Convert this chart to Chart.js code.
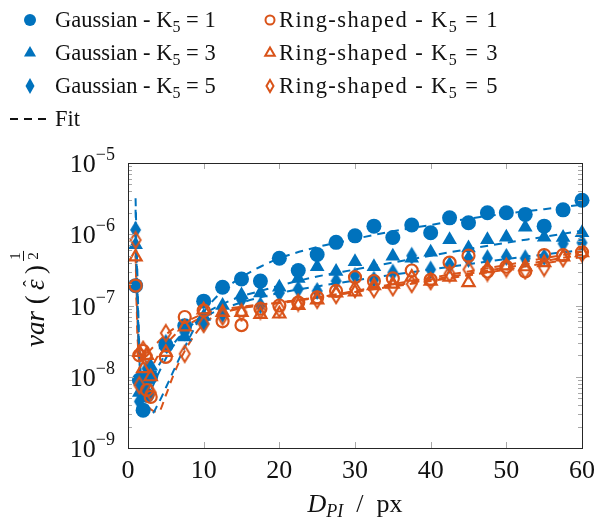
<!DOCTYPE html>
<html>
<head>
<meta charset="utf-8">
<script src="https://cdn.jsdelivr.net/npm/chart.js@4.4.1/dist/chart.umd.min.js"></script>
<style>
body { margin: 0; background: #fff; }
</style>
</head>
<body>
<canvas id="grafica" width="603" height="521"></canvas>
<script>
// D_PI en px de cada medida
const dpi = [1, 1.5, 2, 2.5, 3, 5, 7.5, 10, 12.5, 15, 17.5, 20, 22.5, 25, 27.5, 30, 32.5, 35, 37.5, 40, 42.5, 45, 47.5, 50, 52.5, 55, 57.5, 60];

// var(eps)^(1/2) medido
const gaussK1 = [1.9e-7, 9e-9, 3.4e-9, 5.5e-9, 1.0e-8, 2.8e-8, 5.2e-8, 1.15e-7, 1.8e-7, 2.35e-7, 2.2e-7, 4.6e-7, 3.1e-7, 5.2e-7, 7.7e-7, 9.5e-7, 1.3e-6, 9.0e-7, 1.35e-6, 1.05e-6, 1.7e-6, 1.45e-6, 2.0e-6, 2.0e-6, 1.9e-6, 1.3e-6, 2.2e-6, 3.0e-6];
const gaussK3 = [7.1e-7, 6e-9, 8e-9, 1.1e-8, 1.4e-8, 2.8e-8, 3.6e-8, 7e-8, 1.0e-7, 1.4e-7, 1.5e-7, 1.8e-7, 2.4e-7, 3.5e-7, 3.0e-7, 4.1e-7, 3.5e-7, 4.9e-7, 4.6e-7, 5.6e-7, 8.4e-7, 6.4e-7, 8.4e-7, 9.1e-7, 1.25e-6, 9.1e-7, 9.0e-7, 1.05e-6];
const gaussK5 = [1.15e-6, 4.5e-9, 7e-9, 1.3e-8, 1.0e-8, 3.0e-8, 4.2e-8, 5.6e-8, 7.5e-8, 1.2e-7, 1.0e-7, 1.5e-7, 1.7e-7, 1.6e-7, 2.2e-7, 2.6e-7, 2.3e-7, 2.9e-7, 5.0e-7, 3.2e-7, 3.7e-7, 4.5e-7, 4.6e-7, 4.8e-7, 4.6e-7, 4.8e-7, 7.4e-7, 7.6e-7];
const ringK1 = [1.9e-7, 2.0e-8, 2.3e-8, 6.5e-9, 5.2e-9, 1.9e-8, 6.9e-8, 8.5e-8, 6e-8, 5.3e-8, 9e-8, 1.0e-7, 1.1e-7, 1.3e-7, 1.6e-7, 2.5e-7, 2.2e-7, 2.4e-7, 3.1e-7, 2.3e-7, 4.0e-7, 5.0e-7, 3.0e-7, 3.5e-7, 3.0e-7, 5.1e-7, 5.1e-7, 5.6e-7];
const ringK3 = [4.8e-7, 2.2e-8, 1.3e-8, 2.0e-8, 1.0e-8, 2.2e-8, 5.0e-8, 8.7e-8, 8e-8, 8e-8, 7.5e-8, 7.6e-8, 1.0e-7, 1.2e-7, 1.5e-7, 1.55e-7, 1.9e-7, 2.0e-7, 2.5e-7, 2.2e-7, 2.5e-7, 2.1e-7, 3.3e-7, 3.6e-7, 3.5e-7, 4.0e-7, 4.8e-7, 5.5e-7];
const ringK5 = [8.3e-7, 7.6e-9, 2.4e-8, 2.0e-8, 6e-9, 4.1e-8, 2.1e-8, 5.5e-8, 7e-8, 8e-8, 8.5e-8, 9e-8, 1.1e-7, 1.2e-7, 1.4e-7, 1.7e-7, 1.7e-7, 1.8e-7, 2.0e-7, 2.2e-7, 2.8e-7, 3.2e-7, 2.9e-7, 3.3e-7, 3.1e-7, 3.4e-7, 4.6e-7, 5.4e-7];

// curvas de ajuste
const dpiFit = [1, 1.25, 1.5, 2, 2.5, 3, 4, 5, 6, 7.5, 10, 12.5, 15, 17.5, 20, 25, 30, 35, 40, 45, 50, 55, 60];
const fitGaussK1 = [3.2e-6, 2.5e-7, 2.5e-8, 4.5e-9, 3.0e-9, 2.9e-9, 4.2e-9, 7e-9, 1.2e-8, 2.6e-8, 8e-8, 1.6e-7, 2.5e-7, 3.5e-7, 4.6e-7, 6.6e-7, 8.6e-7, 1.1e-6, 1.35e-6, 1.65e-6, 1.95e-6, 2.25e-6, 2.6e-6];
const fitGaussK3 = [2.2e-6, 1.5e-7, 2e-8, 6e-9, 5.5e-9, 6.5e-9, 1.1e-8, 1.8e-8, 2.7e-8, 4.2e-8, 7.5e-8, 1.05e-7, 1.35e-7, 1.6e-7, 1.9e-7, 2.55e-7, 3.2e-7, 4.0e-7, 5.0e-7, 6.2e-7, 7.6e-7, 9.2e-7, 1.12e-6];
const fitGaussK5 = [1.5e-6, 1.2e-7, 1.8e-8, 7e-9, 7e-9, 8.5e-9, 1.4e-8, 2.1e-8, 2.9e-8, 4.3e-8, 6.8e-8, 9e-8, 1.1e-7, 1.3e-7, 1.5e-7, 1.85e-7, 2.25e-7, 2.7e-7, 3.2e-7, 3.8e-7, 4.5e-7, 5.2e-7, 6.0e-7];
const fitRingK1 = [6e-7, 6e-8, 2.4e-8, 2.0e-8, 2.1e-8, 2.4e-8, 3.1e-8, 3.9e-8, 4.7e-8, 5.8e-8, 7.6e-8, 8.8e-8, 9.6e-8, 1.03e-7, 1.1e-7, 1.3e-7, 1.6e-7, 2.0e-7, 2.45e-7, 3.0e-7, 3.7e-7, 4.6e-7, 5.7e-7];
const fitRingK3 = [5e-7, 4e-8, 1.5e-8, 1.0e-8, 1.1e-8, 1.3e-8, 2.0e-8, 2.8e-8, 3.7e-8, 5.0e-8, 7.0e-8, 8.2e-8, 9.2e-8, 1.0e-7, 1.08e-7, 1.28e-7, 1.55e-7, 1.9e-7, 2.3e-7, 2.8e-7, 3.4e-7, 4.2e-7, 5.2e-7];
const fitRingK5 = [8e-7, 5e-8, 1.5e-8, 6e-9, 4.2e-9, 3.5e-9, 3.2e-9, 5.5e-9, 1.05e-8, 2.3e-8, 5.5e-8, 7.8e-8, 9.2e-8, 1.02e-7, 1.1e-7, 1.3e-7, 1.55e-7, 1.85e-7, 2.2e-7, 2.65e-7, 3.2e-7, 3.9e-7, 4.8e-7];

const xTicks = [0, 10, 20, 30, 40, 50, 60];
const yExponentes = [-9, -8, -7, -6, -5];

const azul = '#0072BD';
const naranja = '#D95319';
const fuente = '"Liberation Serif", "DejaVu Serif", serif';
const trazo = [8, 6];

function serie(xs, ys) {
    return xs.map(function (x, i) { return { x: x, y: ys[i] }; });
}

// rombo alargado para los marcadores K5 = 5
function rombo(w, h, color, relleno) {
    const c = document.createElement('canvas');
    c.width = w + 4;
    c.height = h + 4;
    const g = c.getContext('2d');
    g.beginPath();
    g.moveTo(c.width / 2, 2);
    g.lineTo(c.width - 2, c.height / 2);
    g.lineTo(c.width / 2, c.height - 2);
    g.lineTo(2, c.height / 2);
    g.closePath();
    if (relleno) {
        g.fillStyle = color;
        g.fill();
    } else {
        g.strokeStyle = color;
        g.lineWidth = 2;
        g.stroke();
    }
    return c;
}

const romboAzul = rombo(11, 18, azul, true);
const romboNaranja = rombo(10, 16, naranja, false);

function puntos(datos, estilo, color, relleno, radio, orden) {
    return {
        type: 'scatter',
        data: serie(dpi, datos),
        showLine: false,
        pointStyle: estilo,
        pointRadius: radio,
        pointBackgroundColor: relleno ? color : 'rgba(0,0,0,0)',
        pointBorderColor: color,
        pointBorderWidth: relleno ? 0 : 2.2,
        clip: false,
        order: orden
    };
}

function ajuste(datos, color) {
    return {
        type: 'line',
        data: serie(dpiFit, datos),
        borderColor: color,
        borderWidth: 2,
        borderDash: trazo,
        pointRadius: 0,
        cubicInterpolationMode: 'monotone',
        fill: false,
        order: 10
    };
}

// texto con subindice
function textoSub(ctx, x, y, partes) {
    let cx = x;
    partes.forEach(function (p) {
        ctx.font = p.font;
        ctx.fillText(p.t, cx, y + (p.dy || 0));
        cx += ctx.measureText(p.t).width;
    });
    return cx;
}

function anchoPartes(ctx, partes) {
    let w = 0;
    partes.forEach(function (p) {
        ctx.font = p.font;
        w += ctx.measureText(p.t).width;
    });
    return w;
}

function dibujarMarcador(ctx, tipo, x, y, color, relleno) {
    ctx.save();
    ctx.fillStyle = color;
    ctx.strokeStyle = color;
    ctx.lineWidth = 2;
    ctx.beginPath();
    if (tipo === 'circle') {
        ctx.arc(x, y, relleno ? 6 : 4.5, 0, Math.PI * 2);
    } else if (tipo === 'triangle') {
        const r = relleno ? 7 : 5.5;
        ctx.moveTo(x, y - r);
        ctx.lineTo(x + r * 0.866, y + r * 0.5);
        ctx.lineTo(x - r * 0.866, y + r * 0.5);
        ctx.closePath();
    } else {
        const w = relleno ? 4.5 : 3.5, h = relleno ? 8 : 6;
        ctx.moveTo(x, y - h);
        ctx.lineTo(x + w, y);
        ctx.lineTo(x, y + h);
        ctx.lineTo(x - w, y);
        ctx.closePath();
    }
    if (relleno) ctx.fill(); else ctx.stroke();
    ctx.restore();
}

const leyenda = {
    id: 'leyenda',
    afterDraw(chart) {
        const ctx = chart.ctx;
        ctx.save();
        ctx.fillStyle = '#111';
        ctx.textBaseline = 'alphabetic';
        const filas = [
            { k: '1', tipo: 'circle', y: 27 },
            { k: '3', tipo: 'triangle', y: 60 },
            { k: '5', tipo: 'diamond', y: 93 }
        ];
        filas.forEach(function (f) {
            dibujarMarcador(ctx, f.tipo, 30, f.y - 7, azul, true);
            dibujarMarcador(ctx, f.tipo, 270, f.y - 7, naranja, false);
            ctx.fillStyle = '#111';
            ctx.letterSpacing = '0px';
            textoSub(ctx, 55, f.y, [
                { t: 'Gaussian - K', font: '22.5px ' + fuente },
                { t: '5', font: '16px ' + fuente, dy: 5 },
                { t: ' = ' + f.k, font: '22.5px ' + fuente }
            ]);
            ctx.letterSpacing = '1.4px';
            textoSub(ctx, 279, f.y, [
                { t: 'Ring-shaped - K', font: '22.5px ' + fuente },
                { t: '5', font: '16px ' + fuente, dy: 5 },
                { t: ' = ' + f.k, font: '22.5px ' + fuente }
            ]);
            ctx.letterSpacing = '0px';
        });
        ctx.strokeStyle = '#111';
        ctx.lineWidth = 2;
        ctx.setLineDash(trazo);
        ctx.beginPath();
        ctx.moveTo(10, 119);
        ctx.lineTo(46, 119);
        ctx.stroke();
        ctx.setLineDash([]);
        ctx.font = '22.5px ' + fuente;
        ctx.fillText('Fit', 55, 126);
        ctx.restore();
    }
};

const marcoEjes = {
    id: 'marcoEjes',
    afterDatasetsDraw(chart) {
        const ctx = chart.ctx;
        const a = chart.chartArea;
        const sx = chart.scales.x, sy = chart.scales.y;
        ctx.save();
        // marcas interiores
        ctx.strokeStyle = '#a8a8a8';
        ctx.lineWidth = 1;
        ctx.beginPath();
        xTicks.forEach(function (v) {
            const px = Math.round(sx.getPixelForValue(v)) + 0.5;
            ctx.moveTo(px, a.bottom); ctx.lineTo(px, a.bottom - 6);
            ctx.moveTo(px, a.top); ctx.lineTo(px, a.top + 6);
        });
        yExponentes.forEach(function (e) {
            if (e === yExponentes[yExponentes.length - 1]) return;
            for (let k = 1; k <= 9; k++) {
                const py = Math.round(sy.getPixelForValue(k * Math.pow(10, e))) + 0.5;
                const l = k === 1 ? 6 : 4;
                ctx.moveTo(a.left, py); ctx.lineTo(a.left + l, py);
                ctx.moveTo(a.right, py); ctx.lineTo(a.right - l, py);
            }
        });
        ctx.stroke();
        // caja
        ctx.strokeStyle = '#262626';
        ctx.strokeRect(Math.round(a.left) + 0.5, Math.round(a.top) + 0.5, Math.round(a.right - a.left), Math.round(a.bottom - a.top));

        // etiquetas del eje y: 10^e
        ctx.fillStyle = '#111';
        ctx.textBaseline = 'alphabetic';
        yExponentes.forEach(function (e) {
            const py = sy.getPixelForValue(Math.pow(10, e));
            const sup = '\u2212' + Math.abs(e);
            ctx.font = '18px ' + fuente;
            const ws = ctx.measureText(sup).width;
            ctx.font = '26px ' + fuente;
            ctx.textAlign = 'right';
            ctx.fillText('10', 115 - ws, py + 9);
            ctx.textAlign = 'left';
            ctx.font = '18px ' + fuente;
            ctx.fillText(sup, 115 - ws, py - 3);
        });

        // titulo eje x: D_PI / px
        const partesX = [
            { t: 'D', font: 'italic 26px ' + fuente },
            { t: 'PI', font: 'italic 18px ' + fuente, dy: 5 },
            { t: '\u2002/\u2002px', font: '26px ' + fuente }
        ];
        const wx = anchoPartes(ctx, partesX);
        ctx.textAlign = 'left';
        textoSub(ctx, (a.left + a.right) / 2 - wx / 2, 512, partesX);

        // titulo eje y: var(eps)^(1/2)
        ctx.translate(44, 298);
        ctx.rotate(-Math.PI / 2);
        const partesY = [
            { t: 'var', font: 'italic 27px ' + fuente },
            { t: ' (', font: '27px ' + fuente },
            { t: '\u2009\u03B5\u2009', font: 'italic 27px ' + fuente },
            { t: ')', font: '27px ' + fuente }
        ];
        const wy = anchoPartes(ctx, partesY) + 16;
        let cx = -wy / 2;
        partesY.forEach(function (p) {
            ctx.font = p.font;
            const w = ctx.measureText(p.t).width;
            ctx.fillText(p.t, cx, 0);
            if (p.t.indexOf('\u03B5') >= 0) {
                ctx.font = '19px ' + fuente;
                ctx.textAlign = 'center';
                ctx.fillText('\u02C6', cx + w / 2 + 1, -8);
                ctx.textAlign = 'left';
            }
            cx += w;
        });
        // exponente 1/2
        ctx.font = '15px ' + fuente;
        ctx.textAlign = 'center';
        ctx.fillText('1', cx + 9, -24);
        ctx.fillText('2', cx + 9, -6);
        ctx.fillRect(cx + 4, -21, 10, 1);
        ctx.restore();
    }
};

new Chart('grafica', {
    data: {
        datasets: [
            puntos(ringK1, 'circle', naranja, false, 6, 1),
            puntos(ringK3, 'triangle', naranja, false, 7, 2),
            puntos(ringK5, romboNaranja, naranja, false, 7, 3),
            puntos(gaussK1, 'circle', azul, true, 7.5, 4),
            puntos(gaussK3, 'triangle', azul, true, 8.5, 5),
            puntos(gaussK5, romboAzul, azul, true, 8, 6),
            ajuste(fitGaussK1, azul),
            ajuste(fitGaussK3, azul),
            ajuste(fitGaussK5, azul),
            ajuste(fitRingK1, naranja),
            ajuste(fitRingK3, naranja),
            ajuste(fitRingK5, naranja)
        ]
    },
    options: {
        responsive: false,
        animation: false,
        layout: { padding: { top: 163, right: 16, left: 0, bottom: 0 } },
        plugins: {
            legend: { display: false },
            tooltip: { enabled: false }
        },
        scales: {
            x: {
                type: 'linear',
                min: 0,
                max: 60,
                afterBuildTicks: function (scale) {
                    scale.ticks = xTicks.map(function (v) { return { value: v }; });
                },
                afterFit: function (scale) { scale.height = 73; },
                grid: { display: false, drawTicks: false },
                border: { display: false },
                ticks: {
                    padding: 8,
                    color: '#111',
                    font: { family: fuente, size: 26 },
                    maxRotation: 0
                }
            },
            y: {
                type: 'logarithmic',
                min: 1e-9,
                max: 1e-5,
                afterFit: function (scale) { scale.width = 128; },
                grid: { display: false, drawTicks: false },
                border: { display: false },
                ticks: { display: false }
            }
        }
    },
    plugins: [marcoEjes, leyenda]
});
</script>
</body>
</html>
